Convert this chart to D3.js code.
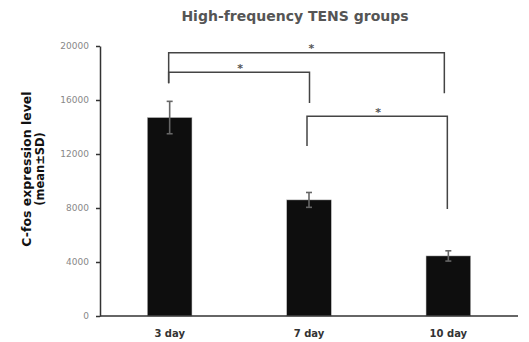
<!DOCTYPE html>
<html><head><meta charset="utf-8">
<script src="https://cdn.jsdelivr.net/npm/d3@7"></script>
<style>body{margin:0;background:#fff}svg{display:block}</style>
</head><body>
<svg id="c" width="529" height="342"></svg>
<script>
const categories = ["3 day", "7 day", "10 day"];
const means = [14700, 8600, 4450];
const sds = [1200, 550, 380];
const yTicks = [0, 4000, 8000, 12000, 16000, 20000];
const title = "High-frequency TENS groups";
const yLabel1 = "C-fos expression level";
const yLabel2 = "(mean±SD)";
// significance brackets: [fromIndex, toIndex, barY, leftDropY, rightDropY]
const sigFrom = [0, 0, 1];
const sigTo = [2, 1, 2];
const sigLevel = [19500, 18050, 14800];
const sigLeftEnd = [17250, 17250, 12600];
const sigRightEnd = [16500, 15780, 7930];
const sigLabel = ["*", "*", "*"];

const svg = d3.select("#c");
const font = "'DejaVu Sans', sans-serif";
const x = d3.scaleBand().domain(categories).range([100, 518]).paddingInner(0.68).paddingOuter(0.34);
const y = d3.scaleLinear().domain([0, 20000]).range([316, 46]);
const cx = c => x(c) + x.bandwidth() / 2;

// title
svg.append("text").attr("x", 295).attr("y", 21).attr("text-anchor", "middle")
  .attr("font-family", font).attr("font-weight", "bold").attr("font-size", 14)
  .attr("fill", "#555").text(title);

// y axis
const ya = svg.append("g").attr("transform", "translate(100,0)")
  .call(d3.axisLeft(y).tickValues(yTicks).tickSize(4).tickSizeOuter(0).tickPadding(7).tickFormat(d3.format("d")));
ya.select(".domain").attr("stroke", "#333").attr("stroke-width", 1.5);
ya.selectAll(".tick line").attr("stroke", "#333").attr("stroke-width", 1.5);
ya.selectAll(".tick text").attr("font-family", font).attr("font-size", 9).attr("fill", "#888");

// bars
svg.append("g").selectAll("rect").data(categories).join("rect")
  .attr("x", d => x(d)).attr("width", x.bandwidth())
  .attr("y", (d, i) => y(means[i])).attr("height", (d, i) => y(0) - y(means[i]))
  .attr("fill", "#0e0e0e").attr("stroke", "#bbb").attr("stroke-width", 0.5);

// x axis
const xa = svg.append("g").attr("transform", "translate(0,316)")
  .call(d3.axisBottom(x).tickSize(0).tickPadding(14));
xa.select(".domain").attr("stroke", "#333").attr("stroke-width", 1.5).attr("d", "M100,0H518");
xa.selectAll(".tick text").attr("font-family", font).attr("font-weight", "bold").attr("font-size", 10).attr("fill", "#333");

// error bars
const eb = svg.append("g").attr("stroke", "#666").attr("stroke-width", 1.6);
categories.forEach((c, i) => {
  const xc = cx(c), t = y(means[i] + sds[i]), b = y(means[i] - sds[i]);
  eb.append("line").attr("x1", xc).attr("x2", xc).attr("y1", t).attr("y2", b);
  eb.append("line").attr("x1", xc - 3).attr("x2", xc + 3).attr("y1", t).attr("y2", t);
  eb.append("line").attr("x1", xc - 3).attr("x2", xc + 3).attr("y1", b).attr("y2", b);
});

// significance brackets
const offs = [[-1, -4], [-1, 0.5], [-2, -1]];
const sg = svg.append("g");
sigFrom.forEach((f, i) => {
  const x1 = cx(categories[f]) + offs[i][0], x2 = cx(categories[sigTo[i]]) + offs[i][1];
  const yl = y(sigLevel[i]);
  sg.append("path").attr("fill", "none").attr("stroke", "#444").attr("stroke-width", 1.5)
    .attr("d", `M${x1},${y(sigLeftEnd[i])}V${yl}H${x2}V${y(sigRightEnd[i])}`);
  sg.append("text").attr("x", (x1 + x2) / 2 + (i === 0 ? 5 : 1)).attr("y", yl - 0.5)
    .attr("text-anchor", "middle").attr("font-family", font).attr("font-weight", "bold")
    .attr("font-size", 11).attr("fill", "#555").text(sigLabel[i]);
});

// y label
const yl = svg.append("text").attr("transform", "translate(31,169) rotate(-90)")
  .attr("text-anchor", "middle").attr("font-family", font).attr("font-weight", "bold").attr("fill", "#111");
yl.append("tspan").attr("x", 0).attr("y", 0).attr("font-size", 12.5).text(yLabel1);
yl.append("tspan").attr("x", 0).attr("y", 13).attr("font-size", 11.5).text(yLabel2);
</script>
</body></html>
